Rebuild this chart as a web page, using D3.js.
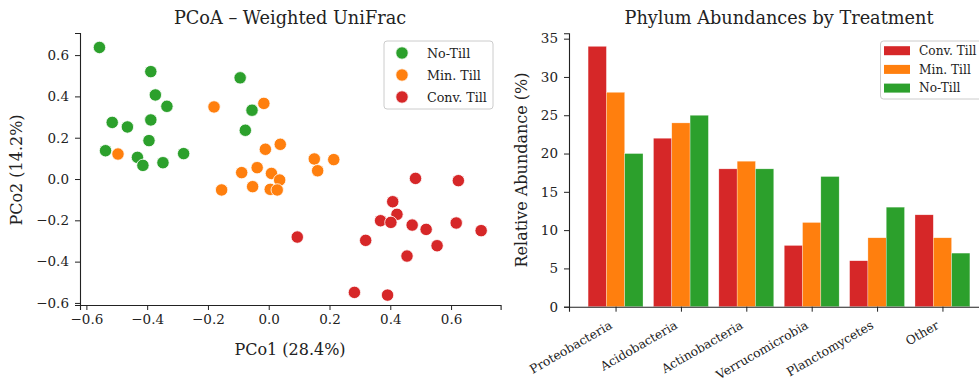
<!DOCTYPE html>
<html>
<head>
<meta charset="utf-8">
<script src="https://cdn.jsdelivr.net/npm/d3@7"></script>
<style>
body { margin: 0; background: #fff; }
svg { font-family: "DejaVu Serif", serif; }
</style>
</head>
<body>
<script>
var w = 979;
var h = 378;

// PCoA points, one array per group
var noTillX = [-0.557, -0.388, -0.373, -0.335, -0.515, -0.465, -0.388, -0.394, -0.537, -0.432, -0.414, -0.348, -0.280, -0.094, -0.055, -0.077];
var noTillY = [0.637, 0.520, 0.407, 0.352, 0.274, 0.252, 0.286, 0.186, 0.137, 0.105, 0.066, 0.079, 0.123, 0.490, 0.333, 0.236];
var minTillX = [-0.496, -0.180, -0.016, -0.011, 0.038, -0.089, -0.038, 0.009, 0.036, 0.150, 0.214, 0.161, -0.155, -0.053, 0.005, 0.028];
var minTillY = [0.121, 0.349, 0.366, 0.144, 0.168, 0.031, 0.055, 0.027, -0.005, 0.097, 0.094, 0.040, -0.053, -0.037, -0.050, -0.053];
var convTillX = [0.483, 0.624, 0.408, 0.422, 0.368, 0.402, 0.472, 0.518, 0.617, 0.699, 0.554, 0.455, 0.319, 0.094, 0.282, 0.391];
var convTillY = [0.003, -0.008, -0.110, -0.171, -0.202, -0.210, -0.223, -0.244, -0.213, -0.250, -0.323, -0.373, -0.297, -0.281, -0.549, -0.562];
var pcoTicks = [-0.6, -0.4, -0.2, 0.0, 0.2, 0.4, 0.6];

// phylum abundances
var phyla = ["Proteobacteria", "Acidobacteria", "Actinobacteria", "Verrucomicrobia", "Planctomycetes", "Other"];
var convTill = [34, 22, 18, 8, 6, 12];
var minTill = [28, 24, 19, 11, 9, 9];
var noTill = [20, 25, 18, 17, 13, 7];
var abundTicks = [0, 5, 10, 15, 20, 25, 30, 35];

var green = "#2ca02c", orange = "#ff7f0e", red = "#d62728";
var tickFont = 13.5, labelFont = 16, titleFont = 17.7;

var svg = d3.select("body").append("svg")
    .attr("width", w).attr("height", h);

// ---------- left: scatter ----------
var x1 = d3.scaleLinear().domain([-0.621, 0.763]).range([80, 500.6]);
var y1 = d3.scaleLinear().domain([-0.610, 0.707]).range([305, 33]);

var g1 = svg.append("g");
g1.append("g")
    .attr("transform", "translate(0,305)")
    .call(d3.axisBottom(x1).tickValues(pcoTicks).tickFormat(d3.format(".1f")).tickSize(5).tickPadding(4.5))
    .call(styleAxis);
g1.append("g")
    .attr("transform", "translate(80,0)")
    .call(d3.axisLeft(y1).tickValues(pcoTicks).tickFormat(d3.format(".1f")).tickSize(5).tickPadding(6))
    .call(styleAxis);

var groups = [
    {name: "No-Till", xs: noTillX, ys: noTillY, color: green},
    {name: "Min. Till", xs: minTillX, ys: minTillY, color: orange},
    {name: "Conv. Till", xs: convTillX, ys: convTillY, color: red}
];
groups.forEach(function(gr) {
    g1.selectAll(null)
        .data(gr.xs)
        .enter()
        .append("circle")
        .attr("cx", function(d){ return x1(d); })
        .attr("cy", function(d, i){ return y1(gr.ys[i]); })
        .attr("r", 6.2)
        .attr("fill", gr.color)
        .attr("stroke", "#fff")
        .attr("stroke-width", 0.8);
});

addText(290, 24, "PCoA – Weighted UniFrac", titleFont, "middle");
addText(290, 355, "PCo1 (28.4%)", labelFont, "middle");
svg.append("text")
    .attr("transform", "translate(22,170) rotate(-90)")
    .attr("text-anchor", "middle")
    .attr("font-size", labelFont)
    .attr("fill", "#222")
    .text("PCo2 (14.2%)");

// legend left
var lg1 = svg.append("g");
lg1.append("rect").attr("x", 384).attr("y", 41).attr("width", 109).attr("height", 68)
    .attr("rx", 3).attr("fill", "#fff").attr("fill-opacity", 0.8)
    .attr("stroke", "#ccc");
groups.forEach(function(gr, i) {
    var yy = 53 + i * 22;
    lg1.append("circle").attr("cx", 402).attr("cy", yy).attr("r", 6.2)
        .attr("fill", gr.color).attr("stroke", "#fff").attr("stroke-width", 0.8);
    lg1.append("text").attr("x", 427).attr("y", yy + 4.5)
        .attr("font-size", 12.7).attr("fill", "#222").text(gr.name);
});

// ---------- right: grouped bars ----------
var x2 = d3.scaleLinear().domain([-0.712, 5.712]).range([569, 989]);
var y2 = d3.scaleLinear().domain([0, 35.7]).range([306.7, 33.3]);
var bw = 0.28;

var g2 = svg.append("g");
var series = [
    {name: "Conv. Till", vals: convTill, color: red, off: -1},
    {name: "Min. Till", vals: minTill, color: orange, off: 0},
    {name: "No-Till", vals: noTill, color: green, off: 1}
];
series.forEach(function(s) {
    g2.selectAll(null)
        .data(s.vals)
        .enter()
        .append("rect")
        .attr("x", function(d, i){ return x2(i + s.off * bw - bw / 2); })
        .attr("y", function(d){ return y2(d); })
        .attr("width", x2(bw) - x2(0))
        .attr("height", function(d){ return y2(0) - y2(d); })
        .attr("fill", s.color)
        .attr("stroke", "#fff")
        .attr("stroke-opacity", 0.6)
        .attr("stroke-width", 0.5);
});

var xAx2 = g2.append("g")
    .attr("transform", "translate(0,306.7)")
    .call(d3.axisBottom(x2).tickValues(d3.range(phyla.length)).tickFormat(function(d){ return phyla[d]; }).tickSize(5).tickPadding(4))
    .call(styleAxis);
xAx2.selectAll(".tick text")
    .attr("font-size", 12.3)
    .attr("text-anchor", "end")
    .attr("x", 0)
    .attr("y", 0)
    .attr("dy", null)
    .attr("transform", "translate(-3,21) rotate(-30)");
g2.append("g")
    .attr("transform", "translate(569,0)")
    .call(d3.axisLeft(y2).tickValues(abundTicks).tickSize(5).tickPadding(6))
    .call(styleAxis);

addText(779, 24, "Phylum Abundances by Treatment", titleFont, "middle");
svg.append("text")
    .attr("transform", "translate(527,170) rotate(-90)")
    .attr("text-anchor", "middle")
    .attr("font-size", labelFont)
    .attr("fill", "#222")
    .text("Relative Abundance (%)");

// legend right
var lg2 = svg.append("g");
lg2.append("rect").attr("x", 880.5).attr("y", 41).attr("width", 110).attr("height", 58)
    .attr("rx", 3).attr("fill", "#fff").attr("fill-opacity", 0.8)
    .attr("stroke", "#ccc");
series.forEach(function(s, i) {
    var yy = 50.7 + i * 18.7;
    lg2.append("rect").attr("x", 884).attr("y", yy - 4.5).attr("width", 26).attr("height", 9)
        .attr("fill", s.color);
    lg2.append("text").attr("x", 919).attr("y", yy + 4.3)
        .attr("font-size", 12.2).attr("fill", "#222").text(s.name);
});

function addText(x, y, t, size, anchor) {
    svg.append("text").attr("x", x).attr("y", y)
        .attr("text-anchor", anchor)
        .attr("font-size", size)
        .attr("fill", "#222")
        .text(t);
}

function styleAxis(sel) {
    sel.attr("font-family", "DejaVu Serif").attr("font-size", tickFont);
    sel.selectAll("text").attr("fill", "#222");
    sel.selectAll("line").attr("stroke", "#222").attr("stroke-width", 1);
    sel.select(".domain").attr("stroke", "#222").attr("stroke-width", 1.1);
}
</script>
</body>
</html>
